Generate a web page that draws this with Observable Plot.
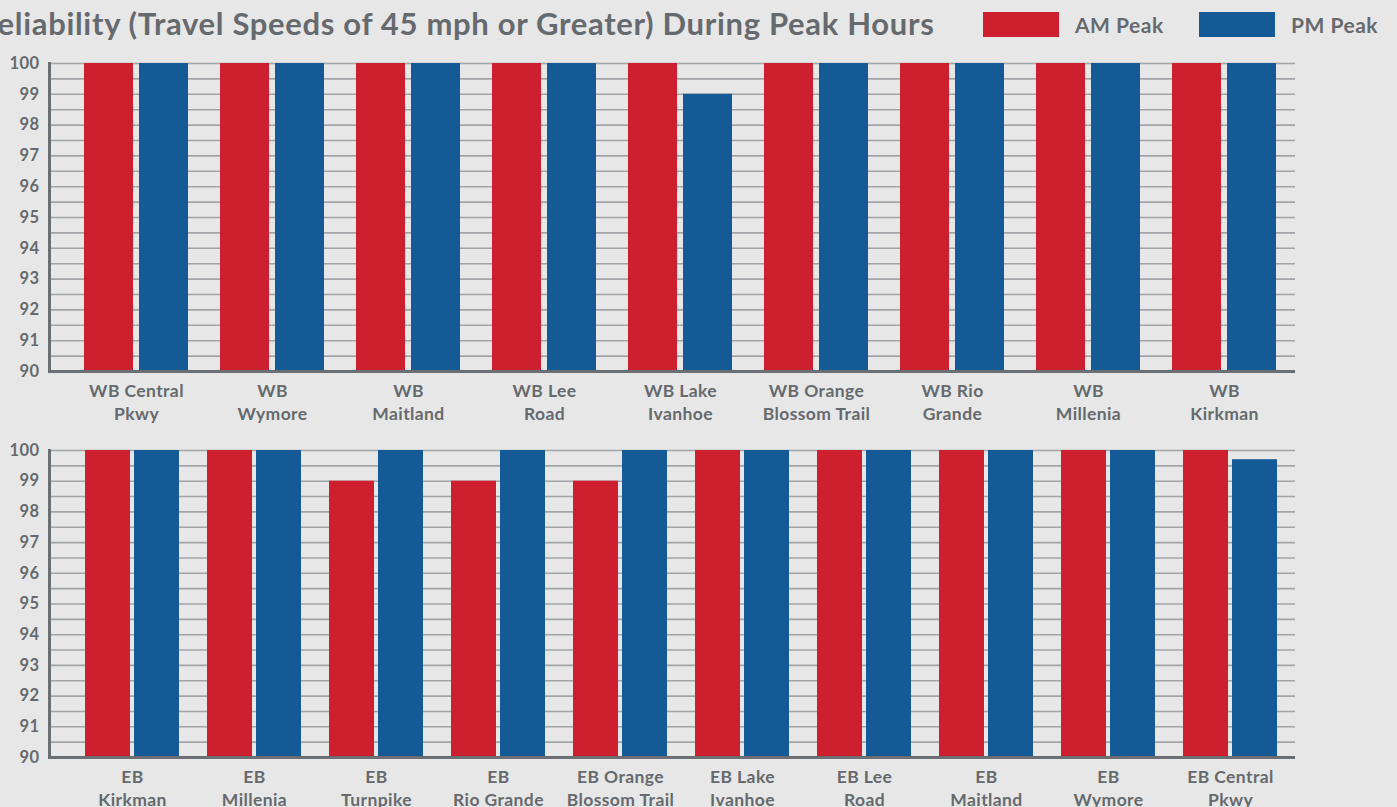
<!DOCTYPE html>
<html>
<head>
<meta charset="utf-8">
<script src="https://cdn.jsdelivr.net/npm/d3@7"></script>
<script src="https://cdn.jsdelivr.net/npm/@observablehq/plot@0.6"></script>
<style>
  html, body { margin: 0; padding: 0; width: 1397px; height: 807px; overflow: hidden; background: #e6e7e6; }
  body { position: relative; font-family: Lato, "Open Sans", sans-serif; color: #666a6e; }
  #title { position: absolute; left: -22px; top: 4px; font-size: 31px; letter-spacing: 0.68px; font-weight: 700; white-space: nowrap; color: #666a6e; }
  .legend { position: absolute; top: 12px; display: flex; align-items: center; font-size: 21px; letter-spacing: 0.5px; font-weight: 700; color: #666a6e; }
  .sw { width: 76px; height: 25px; margin-right: 16px; }
  #top, #bottom { position: absolute; left: 0; }
  #top { top: 40px; }
  #bottom { top: 427px; }
  svg { overflow: visible; }
</style>
</head>
<body>
<div id="title">Reliability (Travel Speeds of 45 mph or Greater) During Peak Hours</div>
<div class="legend" style="left:983px"><div class="sw" style="background:#ce1f2e"></div>AM Peak</div>
<div class="legend" style="left:1199px"><div class="sw" style="background:#145a96"></div>PM Peak</div>
<div id="top"></div>
<div id="bottom"></div>
<script>
// ---- Data ----
const seriesNames = ["AM Peak", "PM Peak"];
const seriesColors = ["#ce1f2e", "#145a96"];
const yTicks = [90, 91, 92, 93, 94, 95, 96, 97, 98, 99, 100];

const wbCategories = ["WB Central Pkwy", "WB Wymore", "WB Maitland", "WB Lee Road", "WB Lake Ivanhoe",
  "WB Orange Blossom Trail", "WB Rio Grande", "WB Millenia", "WB Kirkman"];
const wbTickLabels = ["WB Central\nPkwy", "WB\nWymore", "WB\nMaitland", "WB Lee\nRoad", "WB Lake\nIvanhoe",
  "WB Orange\nBlossom Trail", "WB Rio\nGrande", "WB\nMillenia", "WB\nKirkman"];
const wbAM = [100, 100, 100, 100, 100, 100, 100, 100, 100];
const wbPM = [100, 100, 100, 100, 99, 100, 100, 100, 100];

const ebCategories = ["EB Kirkman", "EB Millenia", "EB Turnpike", "EB Rio Grande", "EB Orange Blossom Trail",
  "EB Lake Ivanhoe", "EB Lee Road", "EB Maitland", "EB Wymore", "EB Central Pkwy"];
const ebTickLabels = ["EB\nKirkman", "EB\nMillenia", "EB\nTurnpike", "EB\nRio Grande", "EB Orange\nBlossom Trail",
  "EB Lake\nIvanhoe", "EB Lee\nRoad", "EB\nMaitland", "EB\nWymore", "EB Central\nPkwy"];
const ebAM = [100, 100, 99, 99, 99, 100, 100, 100, 100, 100];
const ebPM = [100, 100, 100, 100, 100, 100, 100, 100, 100, 99.7];

function panel(cats, labels, am, pm, cfg) {
  const rows = cats.map((c, i) => ({cat: c, am: am[i], pm: pm[i]}));
  const grid = d3.range(90.5, 100.01, 0.5);
  return Plot.plot({
    width: 1397,
    height: cfg.height,
    marginLeft: 49,
    marginRight: 102,
    marginTop: cfg.marginTop,
    marginBottom: cfg.marginBottom,
    style: {background: "transparent", fontFamily: "Lato, 'Open Sans', sans-serif", color: "#666a6e", overflow: "visible", letterSpacing: "0.4px"},
    x: {domain: cats, range: cfg.xRange, paddingInner: 0.232, paddingOuter: 0.116, axis: null, label: null},
    y: {domain: [90, 100], axis: null, label: null},
    marks: [
      Plot.ruleY(grid, {stroke: "#a2a4a8", strokeWidth: 1.6}),
      Plot.barY(rows, {x: "cat", y1: 90, y2: "am", fill: seriesColors[0], insetRight: cfg.inset}),
      Plot.barY(rows, {x: "cat", y1: 90, y2: "pm", fill: seriesColors[1], insetLeft: cfg.inset}),
      Plot.frame({anchor: "left", stroke: "#6b6e72", strokeWidth: 3}),
      Plot.ruleY([90], {stroke: "#6b6e72", strokeWidth: 3}),
      Plot.axisY({ticks: yTicks, tickSize: 0, tickPadding: 10, fontSize: 16.5, fontWeight: 700, fill: "#666a6e", label: null}),
      Plot.axisX({tickSize: 0, tickPadding: 10, fontSize: 17.5, fontWeight: 700, lineHeight: 1.28, fill: "#666a6e", label: null,
        tickFormat: (d) => labels[cats.indexOf(d)]})
    ]
  });
}

document.getElementById("top").append(panel(wbCategories, wbTickLabels, wbAM, wbPM, {
  height: 395, marginTop: 23, marginBottom: 64, xRange: [68, 1292], inset: 55
}));
document.getElementById("bottom").append(panel(ebCategories, ebTickLabels, ebAM, ebPM, {
  height: 380, marginTop: 23, marginBottom: 50, xRange: [70, 1292], inset: 49
}));
</script>
</body>
</html>
